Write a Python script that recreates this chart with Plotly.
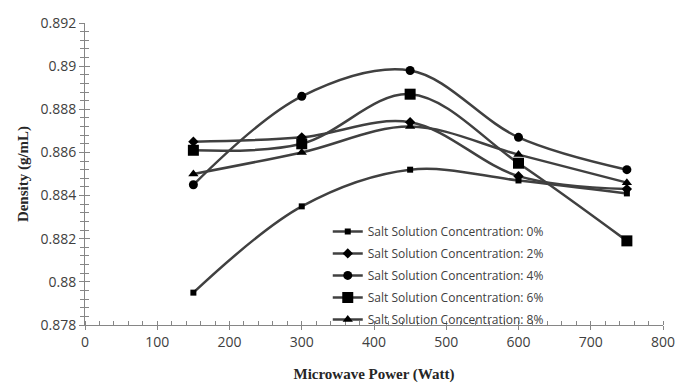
import plotly.graph_objects as go

power = [150, 300, 450, 600, 750]
names = ["Salt Solution Concentration: 0%", "Salt Solution Concentration: 2%",
         "Salt Solution Concentration: 4%", "Salt Solution Concentration: 6%",
         "Salt Solution Concentration: 8%"]
d0 = [0.8795, 0.8835, 0.8852, 0.8847, 0.8841]
d2 = [0.8865, 0.8867, 0.8874, 0.8849, 0.8843]
d4 = [0.8845, 0.8886, 0.8898, 0.8867, 0.8852]
d6 = [0.8861, 0.8864, 0.8887, 0.8855, 0.8819]
d8 = [0.8850, 0.8860, 0.8872, 0.8859, 0.8846]
series = [d0, d2, d4, d6, d8]
symbols = ["square", "diamond", "circle", "square", "triangle-up"]
sizes = [6, 8, 9, 11, 9]

fig = go.Figure()
for i, (nm, ys) in enumerate(zip(names, series)):
    fig.add_trace(go.Scatter(
        x=power, y=ys, name=nm, mode="lines+markers",
        line=dict(color="#404040", width=2.5, shape="spline", smoothing=1.0),
        marker=dict(symbol=symbols[i], size=sizes[i], color="black"),
        legendgroup=str(i)))

axcol = "#868686"
tickfont = dict(family="Open Sans, sans-serif", size=14, color="#404040")
titlefont = dict(family="Liberation Serif, serif", size=15, color="#262626")

fig.update_layout(
    width=676, height=383,
    margin=dict(l=85, r=13, t=23, b=58),
    paper_bgcolor="white", plot_bgcolor="white",
    showlegend=True,
    legend=dict(x=0.42, y=0.358, xanchor="left", yanchor="top",
                bgcolor="rgba(0,0,0,0)", tracegroupgap=3,
                font=dict(family="Open Sans, sans-serif", size=12, color="#404040")),
    xaxis=dict(range=[0, 800], dtick=100, tick0=0, showgrid=False, zeroline=False,
               automargin=False,
               showline=True, linecolor=axcol, linewidth=1,
               ticks="outside", ticklen=4, tickcolor=axcol,
               minor=dict(dtick=20, ticks="inside", ticklen=4, tickcolor=axcol, showgrid=False),
               tickfont=tickfont,
               title=dict(text="<b>Microwave Power (Watt)</b>", font=titlefont, standoff=19)),
    yaxis=dict(range=[0.878, 0.892], dtick=0.002, tick0=0.878, showgrid=False, zeroline=False,
               automargin=False,
               showline=True, linecolor=axcol, linewidth=1,
               ticks="outside", ticklen=5, tickcolor=axcol,
               minor=dict(dtick=0.0004, ticks="outside", ticklen=4, tickcolor=axcol, showgrid=False),
               tickformat="~g", tickfont=tickfont,
               title=dict(text="<b>Density (g/mL)</b>", font=titlefont, standoff=8)),
    yaxis2=dict(range=[0.878, 0.892], overlaying="y", side="left", showgrid=False,
                zeroline=False, showticklabels=False, dtick=0.002, tick0=0.878,
                automargin=False,
                ticks="inside", ticklen=5, tickcolor=axcol,
                minor=dict(dtick=0.0004, ticks="inside", ticklen=4, tickcolor=axcol, showgrid=False)),
)
fig.add_trace(go.Scatter(x=[None], y=[None], yaxis="y2", showlegend=False, hoverinfo="skip"))

fig.write_html("out.html", config={"displayModeBar": False},
               post_script="document.body.style.margin='0';document.body.style.overflow='hidden';")
